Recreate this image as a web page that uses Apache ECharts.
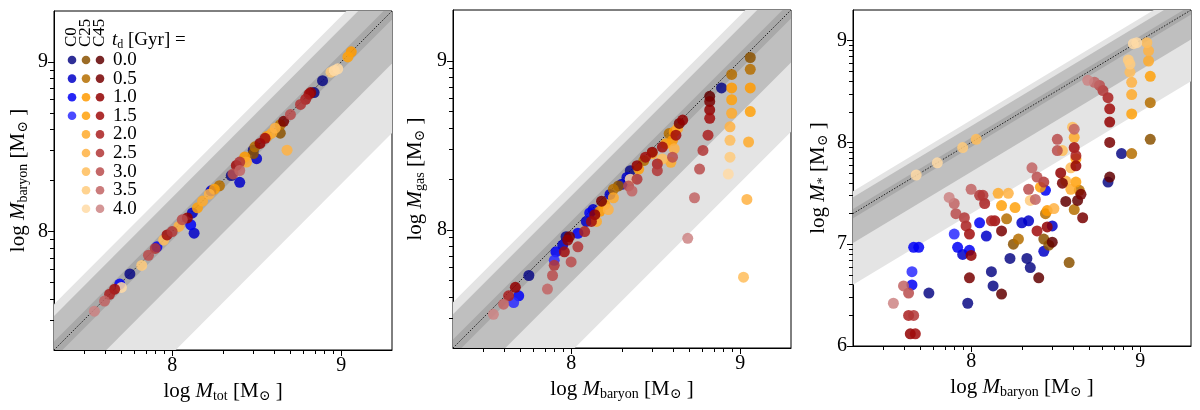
<!DOCTYPE html>
<html>
<head>
<meta charset="utf-8">
<script src="https://cdn.jsdelivr.net/npm/echarts@6/dist/echarts.min.js"></script>
<style>
  html, body { margin: 0; padding: 0; background: #fff; }
  #chart { width: 1200px; height: 410px; }
</style>
</head>
<body>
<div id="chart"></div>
<script>
// modelos y tiempos de retardo
const models = ['C0', 'C25', 'C45'];
const tdLabels = ['0.0', '0.5', '1.0', '1.5', '2.0', '2.5', '3.0', '3.5', '4.0'];
const modelColors = [
    ['#0a0a85', '#0000c8', '#0000f5', '#2a2aff'],
    ['#8b5200', '#b56f00', '#ff9a00', '#ffa10a', '#ffaa2a', '#ffb242', '#ffbd5a', '#ffcb7c', '#ffdba6'],
    ['#620000', '#780000', '#920000', '#a00c0c', '#aa2020', '#b23636', '#ba4c4c', '#c26464', '#cc8484']
];

// ejes (log M)
const xRange = [Math.log10(2e7), Math.log10(2e9)];
const yRangeStar = [6, Math.log10(2e9)];
const majorTicks = [8, 9];
const majorTicksStar = [6, 7, 8, 9];

// bandas alrededor de y = x  [abajo, arriba]
const bandsGas = [[-0.72, 0.27], [-0.31, 0.20], [-0.05, 0.05]];
const bandsStar = [[-0.70, 0.22], [-0.29, 0.16], [-0.045, 0.045]];
const bandColors = ['#e4e4e4', '#bfbfbf', '#a9a9a9'];

// puntos: [x, y, modelo, td]
const panel1Points = [
    [7.54, 7.53, 2, 8], [7.60, 7.59, 2, 7], [7.63, 7.63, 2, 4], [7.66, 7.66, 2, 3],
    [7.69, 7.69, 0, 2], [7.70, 7.67, 1, 8], [7.75, 7.75, 0, 0], [7.82, 7.80, 1, 7],
    [7.86, 7.86, 2, 6], [7.90, 7.90, 2, 5], [7.91, 7.91, 0, 2], [7.95, 7.95, 1, 6],
    [7.97, 7.98, 2, 3], [8.00, 8.00, 2, 5], [8.04, 8.03, 1, 5], [8.06, 8.07, 2, 6],
    [8.09, 8.08, 2, 2], [8.11, 8.04, 0, 2], [8.13, 7.99, 0, 1], [8.12, 8.11, 0, 1],
    [8.15, 8.14, 1, 3], [8.18, 8.18, 1, 4], [8.22, 8.22, 1, 5], [8.25, 8.25, 1, 3],
    [8.28, 8.27, 1, 1], [8.23, 8.24, 0, 1], [8.35, 8.33, 0, 0], [8.36, 8.34, 2, 6],
    [8.40, 8.36, 2, 7], [8.40, 8.29, 0, 1], [8.38, 8.39, 2, 3], [8.40, 8.41, 2, 5],
    [8.43, 8.44, 1, 2], [8.44, 8.41, 1, 4], [8.48, 8.46, 1, 0], [8.50, 8.43, 0, 1],
    [8.49, 8.50, 1, 1], [8.48, 8.48, 0, 0], [8.52, 8.52, 2, 2], [8.55, 8.55, 2, 3],
    [8.56, 8.56, 1, 3], [8.59, 8.58, 1, 4], [8.61, 8.61, 1, 5], [8.64, 8.63, 1, 1],
    [8.64, 8.58, 1, 0], [8.66, 8.65, 2, 1], [8.68, 8.48, 1, 5], [8.70, 8.69, 2, 6],
    [8.76, 8.75, 2, 5], [8.79, 8.78, 2, 4], [8.81, 8.81, 2, 3], [8.82, 8.82, 2, 2],
    [8.84, 8.82, 0, 0], [8.89, 8.89, 0, 0], [8.94, 8.94, 1, 7], [8.96, 8.95, 1, 8],
    [8.98, 8.96, 1, 8], [9.04, 9.03, 1, 3], [9.06, 9.06, 1, 2]
];

const panel2Points = [
    [7.54, 7.50, 2, 8], [7.60, 7.56, 2, 7], [7.63, 7.61, 2, 4], [7.67, 7.66, 2, 2],
    [7.66, 7.57, 0, 3], [7.69, 7.61, 0, 2], [7.75, 7.73, 0, 0], [7.86, 7.65, 2, 7],
    [7.89, 7.73, 2, 6], [7.90, 7.79, 2, 5], [7.90, 7.82, 0, 3], [7.91, 7.87, 0, 2],
    [7.95, 7.91, 0, 1], [7.97, 7.96, 0, 0], [7.99, 7.96, 2, 1], [7.96, 7.87, 2, 3],
    [8.00, 7.81, 2, 6], [7.98, 7.94, 2, 2], [8.04, 7.90, 2, 5], [8.04, 7.98, 0, 2],
    [8.08, 7.99, 2, 4], [8.09, 8.05, 0, 1], [8.11, 8.10, 0, 2], [8.13, 8.12, 0, 1],
    [8.12, 8.05, 2, 3], [8.15, 8.05, 1, 4], [8.14, 8.09, 2, 2], [8.18, 8.17, 2, 1],
    [8.20, 8.15, 1, 3], [8.17, 8.11, 1, 2], [8.22, 8.12, 1, 5], [8.23, 8.21, 0, 1],
    [8.25, 8.19, 1, 4], [8.25, 8.24, 1, 1], [8.28, 8.26, 1, 0], [8.30, 8.27, 0, 1],
    [8.33, 8.31, 0, 1], [8.35, 8.35, 0, 0], [8.34, 8.26, 2, 6], [8.36, 8.23, 2, 7],
    [8.35, 8.30, 1, 8], [8.39, 8.30, 2, 5], [8.39, 8.38, 2, 2], [8.40, 8.36, 1, 3],
    [8.43, 8.41, 1, 1], [8.44, 8.43, 2, 3], [8.48, 8.46, 2, 2], [8.48, 8.45, 1, 4],
    [8.51, 8.39, 2, 4], [8.51, 8.35, 2, 5], [8.54, 8.42, 1, 6], [8.54, 8.49, 2, 3],
    [8.56, 8.51, 1, 3], [8.58, 8.57, 1, 1], [8.60, 8.53, 1, 2], [8.61, 8.58, 1, 2],
    [8.63, 8.60, 1, 4], [8.60, 8.43, 2, 6], [8.61, 8.48, 1, 5], [8.59, 8.40, 1, 4],
    [8.64, 8.63, 2, 1], [8.66, 8.65, 2, 2], [8.62, 8.56, 2, 3], [8.69, 7.95, 2, 8],
    [8.73, 8.19, 2, 7], [8.76, 8.36, 2, 6], [8.78, 8.47, 2, 5], [8.81, 8.56, 2, 4],
    [8.82, 8.66, 2, 3], [8.82, 8.71, 2, 2], [8.82, 8.76, 2, 1], [8.82, 8.79, 2, 0],
    [8.89, 8.84, 0, 0], [8.93, 8.33, 1, 8], [8.94, 8.43, 1, 7], [8.94, 8.53, 1, 6],
    [8.94, 8.61, 1, 5], [8.95, 8.69, 1, 4], [8.95, 8.77, 1, 3], [8.95, 8.84, 1, 2],
    [8.95, 8.92, 1, 1], [9.02, 7.72, 1, 6], [9.04, 8.18, 1, 5], [9.05, 8.52, 1, 4],
    [9.06, 8.70, 1, 3], [9.06, 8.84, 1, 2], [9.06, 8.95, 1, 1], [9.06, 9.02, 1, 0]
];

const panel3Points = [
    [7.675, 7.68, 1, 8], [7.80, 7.80, 1, 8], [7.95, 7.95, 1, 7], [8.03, 8.03, 1, 6],
    [8.96, 8.97, 1, 8], [8.98, 8.98, 1, 8], [8.93, 8.81, 1, 7], [8.94, 8.77, 1, 7],
    [8.94, 8.69, 1, 6], [8.95, 8.59, 1, 5], [8.95, 8.47, 1, 4], [8.95, 8.28, 1, 3],
    [8.95, 7.89, 1, 1], [9.04, 8.98, 1, 6], [9.05, 8.90, 1, 5], [9.05, 8.80, 1, 4],
    [9.06, 8.65, 1, 3], [9.06, 8.39, 1, 1], [9.06, 8.03, 1, 0],
    [8.69, 8.61, 2, 8], [8.73, 8.59, 2, 7], [8.76, 8.56, 2, 6], [8.78, 8.51, 2, 5],
    [8.81, 8.44, 2, 4], [8.82, 8.33, 2, 3], [8.82, 8.20, 2, 2], [8.82, 8.00, 2, 1],
    [8.82, 7.66, 2, 0], [8.81, 7.61, 0, 0], [8.89, 7.89, 0, 0],
    [8.60, 8.15, 1, 6], [8.61, 8.13, 2, 7], [8.61, 8.05, 1, 4], [8.61, 7.95, 2, 3],
    [8.62, 7.87, 2, 4], [8.62, 7.77, 2, 2], [8.59, 7.75, 1, 6], [8.54, 7.92, 1, 6],
    [8.51, 7.92, 2, 6], [8.51, 8.03, 2, 6], [8.53, 7.70, 2, 2], [8.54, 7.60, 2, 1],
    [8.56, 7.62, 1, 5], [8.59, 7.54, 1, 4], [8.62, 7.61, 1, 3], [8.62, 7.84, 1, 3],
    [8.64, 7.53, 1, 1], [8.65, 7.49, 2, 1], [8.63, 7.43, 2, 0], [8.61, 7.34, 1, 1],
    [8.66, 7.26, 2, 1], [8.56, 7.42, 2, 0], [8.44, 7.53, 0, 2], [8.41, 7.56, 1, 3],
    [8.39, 7.66, 2, 6], [8.43, 7.61, 2, 5], [8.36, 7.75, 2, 7], [8.35, 7.43, 1, 7],
    [8.38, 7.44, 2, 7], [8.49, 7.35, 1, 5], [8.45, 7.33, 1, 2], [8.44, 7.30, 1, 1],
    [8.45, 7.17, 2, 2], [8.48, 7.18, 0, 1], [8.43, 7.05, 1, 0], [8.48, 7.02, 2, 0],
    [8.46, 6.99, 1, 0], [8.43, 6.93, 0, 1], [8.39, 7.13, 2, 3], [8.40, 6.67, 2, 0],
    [8.58, 6.82, 1, 0], [8.34, 7.54, 2, 6], [8.30, 7.21, 0, 1], [8.34, 7.23, 0, 1],
    [8.35, 6.77, 0, 0], [8.33, 6.86, 0, 0], [8.23, 6.86, 0, 0], [8.25, 7.00, 1, 0],
    [8.28, 7.05, 1, 1], [8.21, 7.25, 1, 1], [8.26, 7.36, 1, 3], [8.22, 7.50, 1, 5],
    [8.16, 7.50, 1, 4], [8.18, 7.38, 1, 3], [8.14, 7.23, 2, 3], [8.12, 7.23, 2, 4],
    [8.18, 7.13, 2, 1], [8.18, 6.51, 2, 0], [8.13, 6.59, 0, 0], [8.12, 6.73, 0, 0],
    [8.09, 7.08, 0, 1], [8.05, 7.21, 0, 2], [8.08, 7.40, 2, 4], [8.05, 7.48, 2, 5],
    [8.07, 7.48, 2, 5], [8.00, 7.54, 2, 7], [7.99, 7.10, 2, 3], [8.00, 6.89, 2, 2],
    [7.99, 6.94, 0, 2], [7.95, 6.90, 0, 1], [7.92, 6.97, 0, 2], [7.90, 7.10, 0, 3],
    [7.99, 6.67, 2, 1], [7.98, 6.42, 0, 0], [7.91, 7.30, 2, 6], [7.90, 7.40, 2, 7],
    [7.87, 7.46, 2, 8], [7.96, 7.26, 2, 5], [7.97, 7.18, 2, 4],
    [7.66, 6.97, 0, 2], [7.69, 6.97, 0, 2], [7.65, 6.73, 0, 3], [7.65, 6.60, 0, 2],
    [7.75, 6.52, 0, 0], [7.60, 6.59, 2, 7], [7.63, 6.52, 2, 6], [7.54, 6.42, 2, 8],
    [7.63, 6.30, 2, 4], [7.66, 6.30, 2, 5], [7.64, 6.12, 2, 2], [7.67, 6.12, 2, 3]
];

const FONT = "'Liberation Serif', 'DejaVu Serif', serif";

// ticks menores en escala log (sin los bordes)
function minorTicks(lo, hi) {
    const out = [];
    for (let n = Math.floor(lo); n <= Math.ceil(hi); n++) {
        for (let k = 2; k <= 9; k++) {
            const v = n + Math.log10(k);
            if (v > lo + 1e-3 && v < hi - 1e-3) out.push(v);
        }
    }
    return out;
}

const nameRich = {
    n: { fontFamily: FONT, fontSize: 21, color: '#000', lineHeight: 24 },
    i: { fontFamily: FONT, fontSize: 21, fontStyle: 'italic', color: '#000', lineHeight: 24 },
    s: { fontFamily: FONT, fontSize: 14, color: '#000', lineHeight: 14, verticalAlign: 'bottom' }
};
function massName(sub) {
    return '{n|log }{i|M}{s|' + sub + '}{n| [M}{s|\u2299}{n| ]}';
}

const grids = [
    { left: 54, top: 11, width: 338, height: 339 },
    { left: 453, top: 10, width: 338, height: 338 },
    { left: 853, top: 10, width: 338, height: 336 }
];
const panels = [
    { xName: 'tot', yName: 'baryon', yRange: xRange, yMajor: majorTicks, bands: bandsGas, points: panel1Points, yGap: 24 },
    { xName: 'baryon', yName: 'gas', yRange: xRange, yMajor: majorTicks, bands: bandsGas, points: panel2Points, yGap: 26 },
    { xName: 'baryon', yName: '*', yRange: yRangeStar, yMajor: majorTicksStar, bands: bandsStar, points: panel3Points, yGap: 23 }
];

const xAxes = [];
const yAxes = [];
const series = [];

panels.forEach((p, g) => {
    const xi = xAxes.length;
    const yi = yAxes.length;
    // eje principal x
    xAxes.push({
        type: 'value', gridIndex: g, position: 'bottom', min: xRange[0], max: xRange[1],
        name: massName(p.xName), nameLocation: 'middle', nameGap: 25,
        nameTextStyle: { rich: nameRich },
        axisLine: { onZero: false, lineStyle: { color: '#000', width: 1 } },
        axisTick: { show: true, customValues: majorTicks, length: 6, lineStyle: { color: '#000' } },
        axisLabel: { customValues: majorTicks, margin: 6, fontFamily: FONT, fontSize: 20, color: '#000' },
        splitLine: { show: false }
    });
    // ticks menores x
    xAxes.push({
        type: 'value', gridIndex: g, position: 'bottom', min: xRange[0], max: xRange[1],
        axisLine: { show: false, onZero: false },
        axisTick: { show: true, customValues: minorTicks(xRange[0], xRange[1]), length: 4, lineStyle: { color: '#000', width: 1 } },
        axisLabel: { show: false }, splitLine: { show: false }
    });
    yAxes.push({
        type: 'value', gridIndex: g, position: 'left', min: p.yRange[0], max: p.yRange[1],
        name: massName(p.yName), nameLocation: 'middle', nameGap: p.yGap,
        nameTextStyle: { rich: nameRich },
        axisLine: { onZero: false, lineStyle: { color: '#000', width: 1 } },
        axisTick: { show: true, customValues: p.yMajor, length: 6, lineStyle: { color: '#000' } },
        axisLabel: { customValues: p.yMajor, margin: 6, fontFamily: FONT, fontSize: 20, color: '#000' },
        splitLine: { show: false }
    });
    yAxes.push({
        type: 'value', gridIndex: g, position: 'left', min: p.yRange[0], max: p.yRange[1],
        axisLine: { show: false, onZero: false },
        axisTick: { show: true, customValues: minorTicks(p.yRange[0], p.yRange[1]), length: 4, lineStyle: { color: '#000', width: 1 } },
        axisLabel: { show: false }, splitLine: { show: false }
    });

    // bandas grises
    p.bands.forEach((b, k) => {
        series.push({
            type: 'custom', xAxisIndex: xi, yAxisIndex: yi, clip: true, silent: true, z: 1,
            data: [b],
            renderItem: (params, api) => {
                const lo = api.value(0), hi = api.value(1);
                const x0 = 6.0, x1 = 10.5;
                const pts = [[x0, x0 + lo], [x1, x1 + lo], [x1, x1 + hi], [x0, x0 + hi]].map(q => api.coord(q));
                const cs = params.coordSys;
                return {
                    type: 'polygon', shape: { points: pts }, style: { fill: bandColors[k] },
                    clipPath: { type: 'rect', shape: { x: cs.x, y: cs.y, width: cs.width, height: cs.height } }
                };
            }
        });
    });
    // linea 1:1
    series.push({
        type: 'line', xAxisIndex: xi, yAxisIndex: yi, z: 2, silent: true, symbol: 'none',
        data: [[xRange[0], xRange[0]], [xRange[1], xRange[1]]],
        lineStyle: { color: '#222', width: 1, type: [1.5, 1.5] }
    });

    // puntos agrupados por modelo y td
    models.forEach((m, mi) => {
        modelColors[mi].forEach((c, ti) => {
            const pts = p.points.filter(q => q[2] === mi && q[3] === ti).map(q => [q[0], q[1]]);
            if (!pts.length) return;
            series.push({
                type: 'scatter', name: m + ' ' + tdLabels[ti], xAxisIndex: xi, yAxisIndex: yi, z: 3,
                symbolSize: 11, data: pts,
                itemStyle: { color: c, opacity: 0.85 }
            });
        });
    });
});

// leyenda dibujada a mano
const legendX = [72, 86, 100];
const legendTop = 60, legendStep = 18.6;
const graphics = [];
models.forEach((m, mi) => {
    graphics.push({
        type: 'text', x: legendX[mi], y: 47, rotation: Math.PI / 2, z: 100,
        style: { text: m, font: '17px ' + FONT, fill: '#000', align: 'left', verticalAlign: 'middle' }
    });
    modelColors[mi].forEach((c, ti) => {
        graphics.push({
            type: 'circle', x: legendX[mi], y: legendTop + ti * legendStep, z: 100,
            shape: { r: 4.3 }, style: { fill: c, opacity: 0.85 }
        });
    });
});
graphics.push({
    type: 'text', x: 112, y: 40, z: 100,
    style: {
        text: '{i|t}{s|d}{n| [Gyr] =}', verticalAlign: 'middle',
        rich: {
            n: { fontFamily: FONT, fontSize: 19, fill: '#000', lineHeight: 22 },
            i: { fontFamily: FONT, fontSize: 19, fontStyle: 'italic', fill: '#000', lineHeight: 22 },
            s: { fontFamily: FONT, fontSize: 12, fill: '#000', lineHeight: 12, verticalAlign: 'bottom' }
        }
    }
});
tdLabels.forEach((t, ti) => {
    graphics.push({
        type: 'text', x: 113, y: legendTop + ti * legendStep, z: 100,
        style: { text: t, font: '19px ' + FONT, fill: '#000', align: 'left', verticalAlign: 'middle' }
    });
});

const chart = echarts.init(document.getElementById('chart'));
chart.setOption({
    animation: false,
    backgroundColor: '#fff',
    grid: grids.map(g => Object.assign({ show: true, borderColor: '#000', borderWidth: 1, backgroundColor: 'transparent' }, g)),
    xAxis: xAxes,
    yAxis: yAxes,
    series: series,
    graphic: graphics
});
</script>
</body>
</html>
